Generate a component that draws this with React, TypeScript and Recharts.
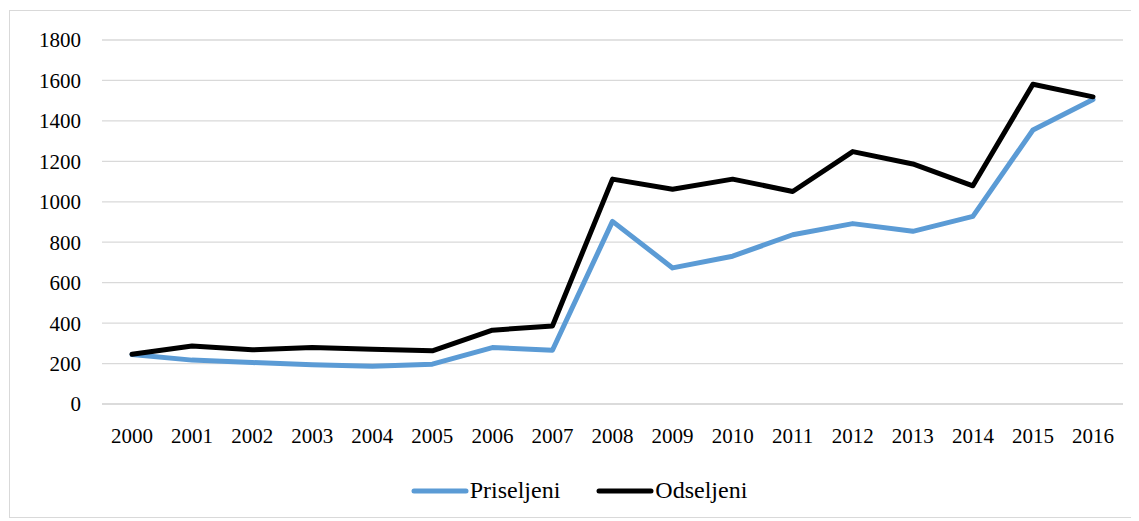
import React from 'react';
import { LineChart, Line, XAxis, YAxis, CartesianGrid, Legend } from 'recharts';

// values
const years = ['2000', '2001', '2002', '2003', '2004', '2005', '2006', '2007', '2008', '2009', '2010', '2011', '2012', '2013', '2014', '2015', '2016'];
const priseljeni = [245, 217, 205, 194, 187, 197, 279, 266, 903, 673, 731, 837, 892, 854, 928, 1355, 1506];
const odseljeni = [246, 287, 268, 279, 271, 263, 365, 386, 1112, 1062, 1112, 1051, 1248, 1187, 1079, 1581, 1519];
const yTicks = [0, 200, 400, 600, 800, 1000, 1200, 1400, 1600, 1800];

const series = [
  { key: 'Priseljeni', color: '#5b9bd5' },
  { key: 'Odseljeni', color: '#000000' },
];

const data = years.map((year, i) => ({
  year,
  Priseljeni: priseljeni[i],
  Odseljeni: odseljeni[i],
}));

const FONT = "'Liberation Serif', 'DejaVu Serif', serif";

function ChartLegend() {
  return (
    <div
      style={{
        display: 'flex',
        justifyContent: 'center',
        alignItems: 'center',
        height: 53,
        paddingLeft: 25,
        fontFamily: FONT,
        fontSize: 24,
        color: '#000',
      }}
    >
      {series.map((s, i) => (
        <div
          key={s.key}
          style={{ display: 'flex', alignItems: 'center', marginRight: i < series.length - 1 ? 36 : 0 }}
        >
          <svg width={58} height={10}>
            <line x1={3} y1={5} x2={55} y2={5} stroke={s.color} strokeWidth={5} strokeLinecap="round" />
          </svg>
          <span style={{ marginLeft: 1 }}>{s.key}</span>
        </div>
      ))}
    </div>
  );
}

export default function App() {
  return (
    <div
      style={{
        position: 'relative',
        marginLeft: 1,
        marginTop: 2,
        width: 1126,
        height: 508,
        border: '1px solid #d9d9d9',
        boxSizing: 'border-box',
        background: '#fff',
        fontFamily: FONT,
      }}
    >
      <LineChart width={1124} height={506} data={data} margin={{ top: 29, right: 11, left: 0, bottom: 0 }}>
        <CartesianGrid vertical={false} stroke="#d9d9d9" strokeWidth={1.3} />
        <XAxis
          dataKey="year"
          height={60}
          padding={{ left: 30, right: 30 }}
          tickLine={false}
          axisLine={{ stroke: '#d9d9d9', strokeWidth: 1.3 }}
          tickMargin={18}
          interval={0}
          tick={{ fontFamily: FONT, fontSize: 21, fill: '#000' }}
        />
        <YAxis
          width={92}
          domain={[0, 1800]}
          ticks={yTicks}
          tickLine={false}
          axisLine={false}
          tickMargin={15}
          tick={{ fontFamily: FONT, fontSize: 21, fill: '#000' }}
        />
        <Legend verticalAlign="bottom" content={<ChartLegend />} />
        {series.map((s) => (
          <Line
            key={s.key}
            type="linear"
            dataKey={s.key}
            stroke={s.color}
            strokeWidth={5}
            strokeLinecap="round"
            strokeLinejoin="round"
            dot={false}
            isAnimationActive={false}
          />
        ))}
      </LineChart>
    </div>
  );
}
